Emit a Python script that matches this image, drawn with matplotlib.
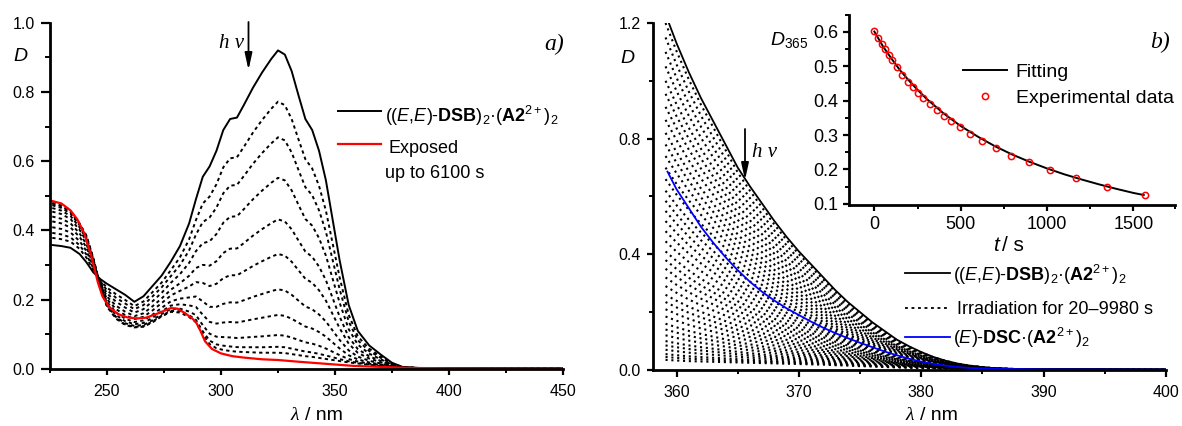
import numpy as np
import matplotlib
matplotlib.use('Agg')
import matplotlib.pyplot as plt
from matplotlib.ticker import MultipleLocator, FixedLocator
from matplotlib.lines import Line2D

plt.rcParams['font.family'] = ['Liberation Sans', 'DejaVu Sans']
plt.rcParams['mathtext.fontset'] = 'custom'
plt.rcParams['mathtext.rm'] = 'Liberation Sans'
plt.rcParams['mathtext.it'] = 'Liberation Sans:italic'
plt.rcParams['mathtext.bf'] = 'Liberation Sans:bold'

# ---------------- data: panel a ----------------
lam_a = [226, 230, 234, 238, 241, 244, 247, 250, 254, 258, 262, 266, 270, 274, 278,
         282, 286, 289, 292, 295, 298, 301, 304, 307, 310, 314, 318, 322, 325, 328,
         331, 334, 337, 340, 343, 346, 349, 352, 356, 360, 365, 370, 375, 380, 390, 450]
initial_a = [0.358, 0.355, 0.350, 0.332, 0.308, 0.279, 0.260, 0.246, 0.230, 0.214, 0.194,
             0.210, 0.240, 0.270, 0.310, 0.355, 0.420, 0.490, 0.555, 0.585, 0.630, 0.690,
             0.722, 0.726, 0.762, 0.812, 0.856, 0.895, 0.920, 0.908, 0.860, 0.790, 0.722,
             0.690, 0.630, 0.545, 0.430, 0.315, 0.185, 0.110, 0.068, 0.042, 0.018, 0.005,
             0.002, 0.001]
last_dotted_a = [0.480, 0.472, 0.455, 0.420, 0.385, 0.320, 0.240, 0.180, 0.145, 0.127, 0.120,
                 0.122, 0.135, 0.152, 0.165, 0.163, 0.150, 0.135, 0.100, 0.072, 0.060, 0.055,
                 0.052, 0.050, 0.049, 0.048, 0.047, 0.047, 0.047, 0.046, 0.043, 0.040, 0.037,
                 0.035, 0.032, 0.029, 0.026, 0.023, 0.019, 0.016, 0.012, 0.009, 0.006, 0.004,
                 0.002, 0.001]
# peak heights (325 nm) of the intermediate (dotted) spectra
dotted_peaks_a = [0.772, 0.669, 0.552, 0.432, 0.332, 0.230, 0.156, 0.098, 0.064, 0.047]

lam_red = [226, 230, 234, 237, 240, 243, 246, 248, 251, 255, 259, 263, 267, 271, 275, 278,
           281, 284, 287, 289, 291, 293, 296, 300, 305, 310, 318, 325, 334, 342, 350, 358,
           366, 375, 383, 400, 450]
final_red = [0.485, 0.478, 0.458, 0.432, 0.392, 0.330, 0.250, 0.210, 0.178, 0.158, 0.149,
             0.146, 0.148, 0.157, 0.168, 0.176, 0.174, 0.162, 0.148, 0.136, 0.110, 0.080,
             0.058, 0.045, 0.037, 0.033, 0.028, 0.026, 0.021, 0.017, 0.013, 0.009, 0.007,
             0.005, 0.003, 0.002, 0.001]

# ---------------- data: panel b ----------------
lam_b = [359.1, 360, 361, 362, 363, 364, 365, 366, 367, 368, 369, 370, 371, 372, 373, 374,
         375, 376, 377, 378, 379, 380, 381, 382, 383, 384, 385, 386, 388, 390, 395, 400]
initial_b = [1.23, 1.13, 1.03, 0.94, 0.86, 0.78, 0.70, 0.635, 0.575, 0.515, 0.46, 0.41,
             0.365, 0.32, 0.275, 0.235, 0.20, 0.165, 0.135, 0.105, 0.082, 0.062, 0.045,
             0.032, 0.022, 0.015, 0.010, 0.006, 0.003, 0.002, 0.001, 0.0005]
lowest_b = [0.033, 0.031, 0.029, 0.028, 0.027, 0.026, 0.025, 0.024, 0.023, 0.022, 0.021,
            0.020, 0.019, 0.018, 0.016, 0.015, 0.013, 0.012, 0.010, 0.009, 0.008, 0.007,
            0.006, 0.005, 0.004, 0.003, 0.002, 0.002, 0.001, 0.001, 0.0005, 0.0003]
# values at 359.1 nm of the dotted spectra (irradiation 20-9980 s)
dotted_start_b = [1.20, 1.15, 1.10, 1.05, 1.00, 0.955, 0.91, 0.865, 0.82, 0.78,
                  0.74, 0.70, 0.66, 0.62, 0.585, 0.55, 0.515, 0.48, 0.445, 0.41, 0.38, 0.35,
                  0.32, 0.29, 0.26, 0.235, 0.21, 0.185, 0.16, 0.14, 0.12, 0.10, 0.085, 0.07,
                  0.055, 0.045, 0.035]

lam_blue = [359.26, 360, 361, 362, 363, 364, 365, 366, 367, 368, 369, 370, 371, 372, 373,
            374, 375, 376, 377, 378, 379, 380, 381, 382, 383, 384, 386, 388, 390, 400]
dsc_blue = [0.686, 0.625, 0.56, 0.495, 0.44, 0.39, 0.345, 0.305, 0.27, 0.24, 0.213, 0.19,
            0.167, 0.146, 0.127, 0.11, 0.094, 0.079, 0.064, 0.051, 0.039, 0.029, 0.021,
            0.015, 0.010, 0.007, 0.004, 0.003, 0.002, 0.001]

# ---------------- data: inset ----------------
t_exp = [0, 23, 43, 64, 82, 101, 132, 163, 193, 224, 253, 284, 323, 364, 405, 446, 496,
         554, 623, 702, 794, 895, 1016, 1167, 1346, 1566]
d_exp = [0.601, 0.581, 0.564, 0.548, 0.532, 0.517, 0.496, 0.474, 0.455, 0.438, 0.422,
         0.407, 0.391, 0.373, 0.356, 0.341, 0.323, 0.304, 0.284, 0.261, 0.240, 0.221,
         0.199, 0.174, 0.149, 0.125]
t_fit = [0, 50, 100, 150, 200, 250, 300, 400, 500, 600, 700, 800, 900, 1000, 1100, 1200,
         1300, 1400, 1500, 1560]
d_fit = [0.600, 0.557, 0.521, 0.487, 0.458, 0.431, 0.406, 0.363, 0.326, 0.295, 0.267,
         0.243, 0.222, 0.203, 0.186, 0.171, 0.157, 0.144, 0.132, 0.126]

# ---------------- figure ----------------
W, H = 1182, 426
fig = plt.figure(figsize=(W / 100, H / 100), dpi=100)


def fx(x):
    return x / W


def fy(y):
    return 1 - y / H


def axrect(x0, y0, x1, y1):
    return [x0 / W, 1 - y1 / H, (x1 - x0) / W, (y1 - y0) / H]


def style(ax, lsize, ymaj, ymin, xmaj, xmin, ypad, xpad):
    for s in ['top', 'right']:
        ax.spines[s].set_visible(False)
    for s in ['left', 'bottom']:
        ax.spines[s].set_linewidth(2.0)
    ax.tick_params(axis='y', which='major', direction='out', length=ymaj, width=1.6,
                   labelsize=lsize, pad=ypad)
    ax.tick_params(axis='y', which='minor', direction='out', length=ymin, width=1.4)
    ax.tick_params(axis='x', which='major', direction='out', length=xmaj, width=1.6,
                   labelsize=lsize, pad=xpad)
    ax.tick_params(axis='x', which='minor', direction='out', length=xmin, width=1.4)
    ax.set_facecolor('none')


axa = fig.add_axes(axrect(50, 22.7, 563, 369))
axb = fig.add_axes(axrect(653.3, 23, 1166, 370))
axi = fig.add_axes(axrect(849.3, 15, 1175, 205))

DOT_A = (0, (1.7, 1.7))
DOT_B = (0, (1.0, 1.8))

# panel a
ia = np.array(initial_a)
la = np.array(last_dotted_a)
pk_i = initial_a[lam_a.index(325)]
pk_l = last_dotted_a[lam_a.index(325)]
for p in dotted_peaks_a:
    f = (p - pk_l) / (pk_i - pk_l)
    axa.plot(lam_a, la + f * (ia - la), color='black', lw=1.4, ls=DOT_A)
axa.plot(lam_a, initial_a, color='black', lw=1.4)
axa.plot(lam_red, final_red, color='#ff0000', lw=1.6)
axa.set_xlim(225, 450)
axa.set_ylim(0, 1.0)
axa.xaxis.set_major_locator(FixedLocator([250, 300, 350, 400, 450]))
axa.xaxis.set_minor_locator(MultipleLocator(25))
axa.yaxis.set_major_locator(MultipleLocator(0.2))
axa.yaxis.set_minor_locator(MultipleLocator(0.1))
axa.yaxis.set_major_formatter(matplotlib.ticker.FormatStrFormatter('%.1f'))
style(axa, 11.5, 6.5, 3.5, 4.5, 3, 4.5, 6.5)

# panel b
ib = np.array(initial_b)
lb = np.array(lowest_b)
for s in dotted_start_b:
    f = (s - lowest_b[0]) / (initial_b[0] - lowest_b[0])
    axb.plot(lam_b, lb + f * (ib - lb), color='black', lw=1.5, ls=DOT_B)
axb.plot(lam_b, initial_b, color='black', lw=1.3)
axb.plot(lam_blue, dsc_blue, color='#0000ff', lw=1.3)
axb.set_xlim(358.1, 400)
axb.set_ylim(0, 1.2)
axb.xaxis.set_major_locator(MultipleLocator(10))
axb.xaxis.set_minor_locator(MultipleLocator(5))
axb.yaxis.set_major_locator(FixedLocator([0.0, 0.4, 0.8, 1.2]))
axb.yaxis.set_minor_locator(MultipleLocator(0.2))
axb.yaxis.set_major_formatter(matplotlib.ticker.FormatStrFormatter('%.1f'))
style(axb, 11.5, 4.5, 3, 5, 3, 4.5, 6)

# inset
axi.plot(t_fit, d_fit, color='black', lw=1.4)
axi.plot(t_exp, d_exp, ls='none', marker='o', ms=4.5, mfc='none', mec='#ff0000', mew=1.1)
axi.set_xlim(-145, 1741)
axi.set_ylim(0.097, 0.648)
axi.xaxis.set_major_locator(FixedLocator([0, 500, 1000, 1500]))
axi.xaxis.set_minor_locator(FixedLocator([250, 750, 1250, 1741]))
axi.yaxis.set_major_locator(FixedLocator([0.1, 0.2, 0.3, 0.4, 0.5, 0.6]))
axi.yaxis.set_minor_locator(FixedLocator([0.15, 0.25, 0.35, 0.45, 0.55, 0.648]))
axi.yaxis.set_major_formatter(matplotlib.ticker.FormatStrFormatter('%.1f'))
style(axi, 13, 4, 3, 4, 3, 4, 4)

# ---------------- texts ----------------
serif_it = dict(family=['Liberation Serif', 'DejaVu Serif'], style='italic')
fig.text(fx(13), fy(61), 'D', fontsize=14, style='italic', va='baseline')
fig.text(fx(620), fy(62.7), 'D', fontsize=14, style='italic', va='baseline')
fig.text(fx(770), fy(45), r'$\mathit{D}_{365}$', fontsize=14, va='baseline')

fig.text(fx(290), fy(420), 'λ', fontsize=14, va='baseline', **serif_it)
fig.text(fx(305), fy(420), '/ nm', fontsize=14, va='baseline')
fig.text(fx(905), fy(420), 'λ', fontsize=14, va='baseline', **serif_it)
fig.text(fx(920), fy(420), '/ nm', fontsize=14, va='baseline')
fig.text(fx(993), fy(251), 't', fontsize=15, style='italic', va='baseline')
fig.text(fx(1002), fy(251), '/ s', fontsize=15, va='baseline')

fig.text(fx(544), fy(50), 'a)', fontsize=17, va='baseline', **serif_it)
fig.text(fx(1150), fy(48.3), 'b)', fontsize=17, va='baseline', **serif_it)

fig.text(fx(219), fy(48), 'h ν', fontsize=15, va='baseline', **serif_it)
fig.text(fx(752), fy(157.3), 'h ν', fontsize=15, va='baseline', **serif_it)
arrow_kw = dict(arrowstyle='-|>,head_length=1.0,head_width=0.22', lw=1.3, color='black',
                shrinkA=0, shrinkB=0)
axa.annotate('', xy=(fx(248.5), fy(70)), xytext=(fx(248.5), fy(22)),
             xycoords='figure fraction', textcoords='figure fraction', arrowprops=arrow_kw)
axb.annotate('', xy=(fx(745), fy(180)), xytext=(fx(745), fy(129)),
             xycoords='figure fraction', textcoords='figure fraction', arrowprops=arrow_kw)

# legends (drawn manually)
lbl_dsb = r'(($\mathit{E}$,$\mathit{E}$)-$\mathbf{DSB}$)$_2$·($\mathbf{A2}^{2+}$)$_2$'
lbl_dsc = r'($\mathit{E}$)-$\mathbf{DSC}$·($\mathbf{A2}^{2+}$)$_2$'

fig.add_artist(Line2D([fx(338), fx(381)], [fy(111), fy(111)], color='black', lw=1.4))
fig.text(fx(385), fy(122), lbl_dsb, fontsize=13, va='baseline')
fig.add_artist(Line2D([fx(338), fx(381)], [fy(144.3), fy(144.3)], color='#ff0000', lw=1.6))
fig.text(fx(389), fy(152.7), 'Exposed', fontsize=13, va='baseline')
fig.text(fx(385), fy(178.5), 'up to 6100 s', fontsize=13, va='baseline')

fig.add_artist(Line2D([fx(905), fx(950)], [fy(273.3), fy(273.3)], color='black', lw=1.3))
fig.text(fx(953.3), fy(281), lbl_dsb, fontsize=13, va='baseline')
fig.add_artist(Line2D([fx(905), fx(950)], [fy(308.3), fy(308.3)], color='black', lw=1.3,
                      ls=(0, (1.6, 2.0))))
fig.text(fx(957), fy(314), 'Irradiation for 20–9980 s', fontsize=13, va='baseline')
fig.add_artist(Line2D([fx(905), fx(950)], [fy(337.3), fy(337.3)], color='#0000ff', lw=1.3))
fig.text(fx(953.3), fy(344.3), lbl_dsc, fontsize=13, va='baseline')

fig.add_artist(Line2D([fx(963.3), fx(1006.7)], [fy(70), fy(70)], color='black', lw=1.4))
fig.text(fx(1015.7), fy(77.3), 'Fitting', fontsize=14, va='baseline')
fig.add_artist(Line2D([fx(985)], [fy(95.7)], ls='none', marker='o', ms=4.5, mfc='none',
                      mec='#ff0000', mew=1.1))
fig.text(fx(1015.7), fy(103.3), 'Experimental data', fontsize=14, va='baseline')

fig.savefig('out.png', dpi=100)
